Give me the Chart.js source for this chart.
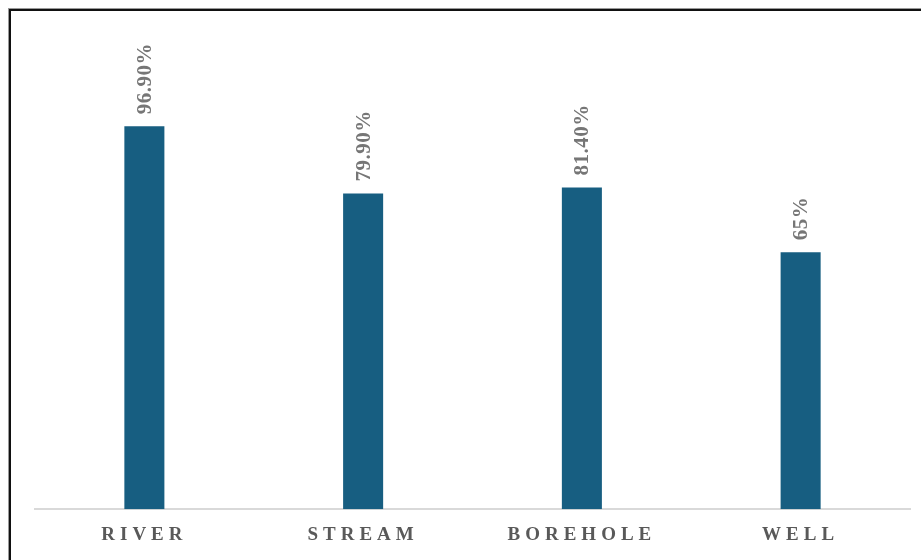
<!DOCTYPE html>
<html lang="en">
<head>
    <meta charset="UTF-8">
    <title>Water source chart</title>
    <script src="https://cdn.jsdelivr.net/npm/chart.js@4.4.1/dist/chart.umd.min.js"></script>
    <style>
        html, body { margin: 0; padding: 0; background: #fff; overflow: hidden; }
        #wrap { position: relative; width: 921px; height: 560px; overflow: hidden; }
        #frame {
            position: absolute; left: 9px; top: 9px; width: 1000px; height: 1000px;
            border-left: 2px solid #111; border-top: 2px solid #111;
            box-shadow: -1px -1px 0 #999;
        }
        #myChart { position: absolute; left: 0; top: 0; }
    </style>
</head>
<body>
<div id="wrap">
    <div id="frame"></div>
    <canvas id="myChart" width="921" height="560"></canvas>
</div>
<script>
    // chart data
    const categories = ['RIVER', 'STREAM', 'BOREHOLE', 'WELL'];
    const values = [96.9, 79.9, 81.4, 65];
    const valueLabels = ['96.90%', '79.90%', '81.40%', '65%'];

    // rotated labels above each bar
    const barLabels = {
        id: 'barLabels',
        beforeDraw(chart) {
            chart.ctx.letterSpacing = '5px';
        },
        afterDatasetsDraw(chart) {
            const ctx = chart.ctx;
            const meta = chart.getDatasetMeta(0);
            ctx.save();
            ctx.letterSpacing = '0.5px';
            ctx.font = 'bold 21px "Liberation Serif", "Times New Roman", serif';
            ctx.fillStyle = '#767676';
            ctx.textAlign = 'left';
            ctx.textBaseline = 'middle';
            meta.data.forEach((bar, i) => {
                ctx.save();
                ctx.translate(bar.x, bar.y - 12);
                ctx.rotate(-Math.PI / 2);
                ctx.fillText(valueLabels[i], 0, 1);
                ctx.restore();
            });
            ctx.restore();
        },
        afterDraw(chart) {
            chart.ctx.letterSpacing = '0px';
        }
    };

    const ctx = document.getElementById('myChart').getContext('2d');
    new Chart(ctx, {
        type: 'bar',
        data: {
            labels: categories,
            datasets: [{
                data: values,
                backgroundColor: '#175E81',
                categoryPercentage: 1,
                barPercentage: 0.183
            }]
        },
        options: {
            responsive: false,
            animation: false,
            layout: { padding: { left: 35, right: 11, top: 35, bottom: 0 } },
            plugins: {
                legend: { display: false },
                tooltip: { enabled: false }
            },
            scales: {
                x: {
                    grid: { display: false, drawTicks: false },
                    border: { display: true, color: '#d9d9d9', width: 2 },
                    ticks: {
                        padding: 14,
                        color: '#595959',
                        font: { family: '"Liberation Serif", "Times New Roman", serif', size: 19, weight: 'bold' }
                    }
                },
                y: {
                    display: false,
                    min: 0,
                    max: 120
                }
            }
        },
        plugins: [barLabels]
    });
</script>
</body>
</html>
